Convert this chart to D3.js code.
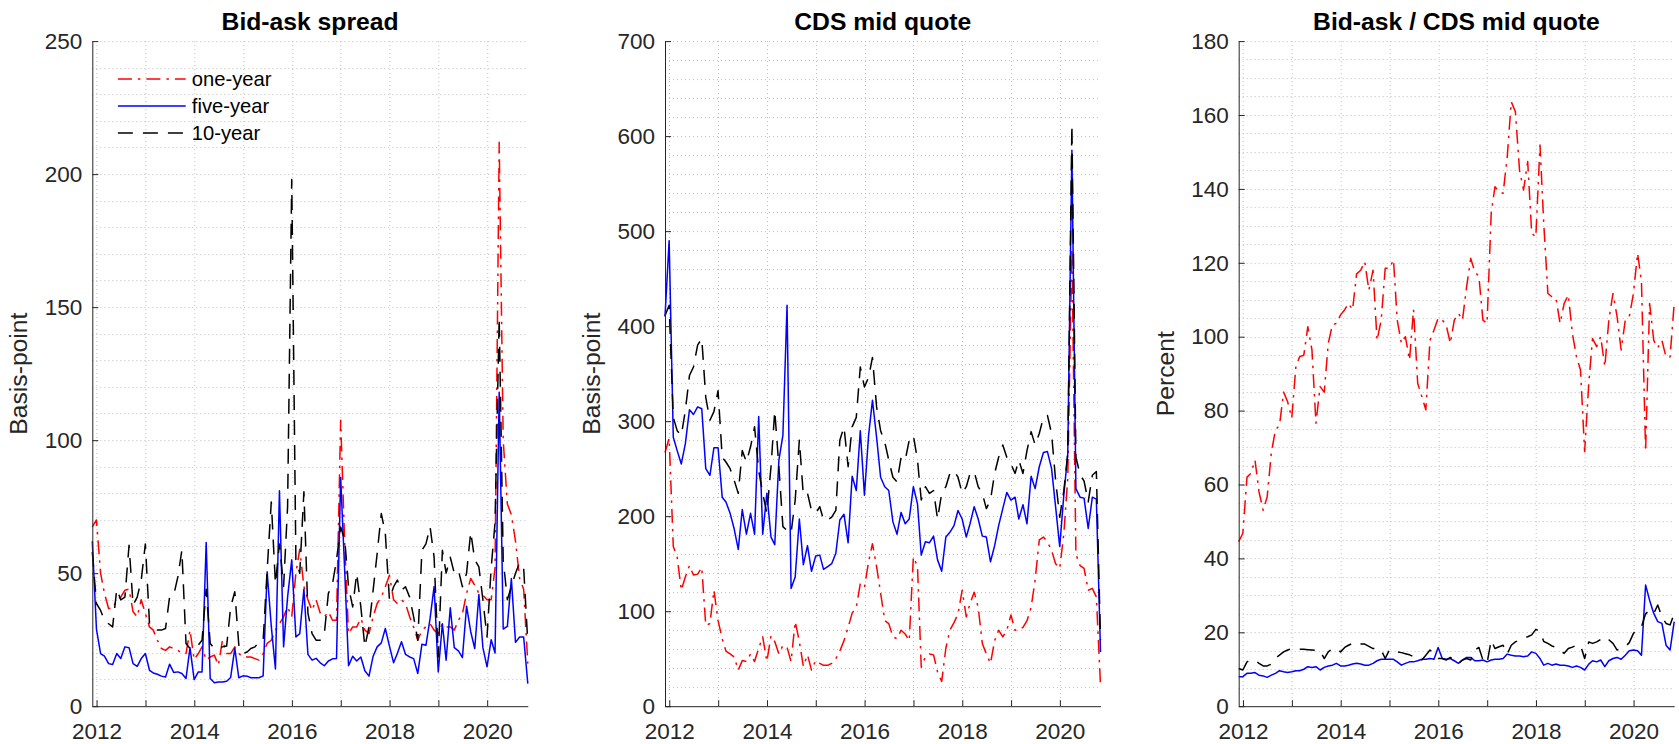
<!DOCTYPE html>
<html>
<head>
<meta charset="utf-8">
<script src="https://cdn.jsdelivr.net/npm/d3@7"></script>
<style>
  html, body { margin: 0; padding: 0; background: #fff; }
  svg { display: block; font-family: "Liberation Sans", Arial, Helvetica, sans-serif; }
</style>
</head>
<body>
<svg id="chart" width="1679" height="744"></svg>
<script>
// Monthly observations, month-end dates from Nov 2011 to Oct 2020 (108 months)
const months = d3.range(108).map(i => new Date(2011, 11 + i, 0));

const seriesNames = ["one-year", "five-year", "10-year"];
const panelTitles = ["Bid-ask spread", "CDS mid quote", "Bid-ask / CDS mid quote"];
const panelYLabels = ["Basis-point", "Basis-point", "Percent"];
const yTickValues = [
  [0, 50, 100, 150, 200, 250],
  [0, 100, 200, 300, 400, 500, 600, 700],
  [0, 20, 40, 60, 80, 100, 120, 140, 160, 180]
];
const yMinorStep = [10, 20, 5];
const xTickYears = [2012, 2013, 2014, 2015, 2016, 2017, 2018, 2019, 2020];

// Bid-ask spread (basis points)
const bidAsk1y = [
  67.4, 70, 50, 42.4, 36.7, 36.7, 40, 41, 43.6, 44, 35.5, 33.6,
  40, 34.8, 29.8, 28.6, 24.8, 21.7, 21, 22.3, 21.7, 21, 19.8, 19.8,
  28.6, 17.5, 19.8, 22.3, 17.3, 18.5, 19.2, 15.4, 24.8, 19.8, 19.8, 22.3,
  19.8, 18.5, 18.5, 18.5, 17.9, 17.3, 19.8, 23.6, 24.8, 28.6, 31, 33.6,
  37.3, 33.6, 50, 59, 45, 40, 36, 40, 35, 33.6, 35.5, 32.3,
  32.3, 107.5, 60, 27.3, 29.8, 29.8, 33, 28.6, 27.3, 33.6, 38.6, 41,
  44.9, 49.2, 40, 38.6, 40, 38.6, 33.6, 29.8, 24.8, 28.6, 29.8, 31,
  28.6, 27.3, 31, 29.8, 29.8, 28.6, 32.3, 34.8, 42.4, 48, 45.5, 42.4,
  41.7, 40, 40, 52, 212, 100, 76, 72, 62, 48, 44, 16
];
const bidAsk5y = [
  62, 29, 19.8, 18.8, 16, 15.7, 19.8, 17.9, 22.3, 22, 16, 15,
  17.9, 19.8, 13.5, 12.5, 12, 11.3, 11, 15.8, 12.7, 12.9, 12.3, 10.4,
  22, 10, 12.9, 12.9, 61.5, 10.4, 8.8, 9.1, 9.1, 9.4, 10.8, 21.7,
  10.7, 11.4, 11.3, 10.7, 10.7, 10.7, 11.4, 50.5, 30, 14, 81, 22.3,
  41, 55, 26, 27.3, 44, 19.5, 17.3, 18, 16.3, 15.2, 17, 17.8,
  17.9, 86, 50, 15.2, 18.8, 17, 18.5, 13.3, 11.3, 18.8, 22.3, 23.8,
  29.2, 22.6, 16.3, 19.8, 24.2, 19.5, 18.5, 17.9, 12.3, 23.3, 22.9, 33,
  45, 12.9, 31, 17.3, 37, 22, 20.8, 18.3, 37.6, 28, 21.7, 42,
  22, 14.8, 25, 20, 118, 29, 30, 48, 24, 26, 26, 8.5
];
const bidAsk10y = [
  58, 38.6, 36, 32.3, 31, 29.8, 44, 40, 41, 60.5, 38, 41,
  47.4, 61, 31, 29.2, 28.6, 28.6, 29.2, 41, 41.7, 48.6, 58.6, 23.6,
  21.7, 22.3, 23, 24.8, 44, 23.6, 21.7, 21.7, 22.3, 22.6, 37.3, 43,
  23, 19.8, 20.4, 21.7, 22.3, 24.2, 24.6, 51, 76.8, 46, 61, 45,
  75, 198, 55, 50, 80.6, 35, 27.3, 24.8, 24.8, 27.3, 42.4, 46,
  55, 67.4, 62.4, 44.9, 37.3, 50, 37.3, 22.3, 29.8, 43.6, 57.4, 72.4,
  65, 40, 44.9, 47.4, 43.6, 44.9, 41, 33.6, 24.8, 58.6, 61, 67.4,
  56, 18.5, 58.6, 50, 56, 50, 51, 44.9, 50, 65.5, 55, 52.4,
  40, 26, 52, 69, 146, 55, 40, 45, 50, 54, 52, 24
];

// CDS mid quote (basis points)
const cdsMid1y = [
  267, 282, 168, 157, 122, 136, 148, 138, 139, 146, 85, 87,
  122, 90, 71, 58, 55, 52, 38, 48, 47, 55, 47, 61,
  73, 47, 74, 68, 55, 64, 62, 47, 89, 68, 42, 54,
  38, 48, 45, 43, 43, 45, 50, 58, 69, 83, 98, 104,
  129, 125, 152, 171, 147, 119, 90, 87, 73, 71, 80, 76,
  69, 157, 147, 41, 52, 55, 54, 36, 26, 61, 80, 88,
  97, 122, 94, 108, 120, 104, 66, 55, 45, 69, 80, 73,
  80, 96, 80, 80, 83, 90, 104, 133, 175, 178, 173, 164,
  150, 145, 182, 240, 482, 160, 148, 145, 122, 124, 115, 22
];
const cdsMid5y = [
  410, 490, 283, 269, 255, 276, 312, 307, 315, 313, 250, 243,
  272, 272, 220, 215, 203, 187, 165, 207, 181, 203, 181, 305,
  181, 224, 178, 170, 259, 285, 422, 124, 136, 197, 149, 169,
  142, 158, 159, 144, 147, 150, 161, 196, 202, 172, 242, 227,
  290, 222, 285, 322, 283, 241, 231, 227, 194, 181, 204, 192,
  197, 231, 213, 159, 173, 172, 179, 154, 142, 178, 183, 190,
  206, 197, 178, 192, 210, 197, 179, 178, 152, 169, 190, 208,
  225, 217, 220, 197, 212, 192, 242, 229, 252, 267, 268, 250,
  210, 168, 223, 265, 585, 229, 220, 219, 187, 220, 218, 57
];
const cdsMid10y = [
  411, 422, 304, 290, 285, 311, 348, 357, 380, 387, 325, 301,
  310, 332, 262, 257, 250, 238, 224, 269, 257, 273, 294, 248,
  224, 203, 252, 311, 252, 189, 185, 182, 217, 280, 222, 224,
  206, 203, 210, 196, 196, 199, 206, 280, 294, 252, 294, 304,
  357, 336, 346, 367, 315, 290, 278, 259, 241, 236, 262, 259,
  280, 285, 259, 217, 231, 224, 227, 197, 224, 231, 245, 248,
  241, 224, 231, 245, 247, 231, 224, 208, 217, 245, 262, 275,
  262, 255, 245, 259, 245, 269, 289, 275, 287, 304, 306, 287,
  238, 199, 227, 266, 612, 262, 244, 237, 215, 243, 247, 70
];

// Bid-ask spread as a share of the CDS mid quote (percent)
const ratio1y = [
  44.5, 46.8, 62, 63, 66.6, 58, 53, 56.7, 68.5, 74.8, 76, 85,
  82.4, 78, 92, 94.6, 95, 102.7, 96.4, 76.6, 86.5, 85, 98.2, 103.2,
  103.6, 105.9, 107.3, 109, 107.3, 117, 118, 120.3, 112.6, 118, 99, 104.5,
  118.5, 118.5, 120.8, 104.5, 98.2, 100, 93.7, 107.3, 87.4, 83.8, 80.2, 99,
  101.8, 105, 104.5, 103.2, 98.2, 104.5, 106.3, 104.5, 113.5, 121.2, 117.6, 116.3,
  104.5, 103.6, 133.4, 140.6, 139.2, 138.8, 148.7, 163.6, 160.9, 145, 139.7, 147.4,
  128, 127, 151.9, 130.7, 111.7, 110.8, 110.4, 103.6, 109, 111.3, 100.9, 94.6,
  91, 68.9, 87.4, 99.5, 97.3, 100, 91.9, 104.5, 111.7, 105.4, 96.4, 104.5,
  105.4, 111.7, 122.6, 115, 69, 109, 99, 97, 99, 94.5, 94.5, 109
];
const ratio5y = [
  8, 8, 8.9, 8.9, 9.1, 8.4, 8.2, 7.8, 8.4, 8.9, 9.6, 9.3,
  9.1, 9.3, 9.6, 9.6, 10, 10.7, 10.5, 10.7, 9.8, 10.5, 10.9, 11.1,
  11.6, 10.9, 10.9, 11.1, 11.4, 11.6, 11.4, 11.1, 11.1, 11.6, 12.3, 12.7,
  12.7, 12.7, 12.7, 12, 11.1, 11.6, 12, 12, 12.3, 12.7, 12.7, 12.9,
  12.7, 15.9, 12.9, 12.7, 12.9, 12.3, 11.6, 12.5, 13.2, 13.2, 12.3, 12.3,
  12.5, 12, 12.5, 12.7, 12.7, 12.9, 14.1, 13.8, 13.6, 13.6, 13.4, 13.6,
  14.7, 14.3, 12.9, 11.1, 11.6, 11.1, 11.4, 11.1, 11.1, 10.9, 10.5, 10.9,
  10.5, 9.8, 11.4, 12.3, 12, 12.5, 10.7, 12.3, 12.9, 13.2, 12.7, 13.8,
  15, 15.2, 15, 13.8, 32.8, 28.7, 25.1, 22.9, 22.4, 16.5, 15.2, 22.9
];
const ratio10y = [
  10.2, 9.8, 12, 12.5, 12.5, 11.6, 10.9, 10.9, 11.4, 13, 13.8, 14.7,
  15.2, 15.6, 15.4, 15.4, 15.4, 15.3, 15.2, 15.1, 15, 12.9, 14.7, 15.6,
  15.6, 14.7, 15.9, 16.5, 17, 16.5, 16.8, 16.8, 16.2, 15.6, 15.6, 15.2,
  12.9, 15.2, 14.7, 14.7, 14.5, 14.2, 13.9, 13.4, 12.7, 12.5, 13.8, 15.2,
  14.3, 12.9, 12.9, 12.5, 13.2, 12.5, 11.6, 12.5, 12.9, 12.5, 15.2, 15.9,
  12.5, 11.6, 17.9, 15.6, 16.1, 16.5, 14.1, 16.5, 17.4, 17.9, 18.4, 18.8,
  19.3, 20.8, 20.2, 17.5, 17, 16.3, 15.9, 15, 14.3, 15.6, 16, 16.5,
  16.5, 12.9, 17.4, 17, 17.4, 18.1, 18.8, 18, 17, 15.2, 15.6, 16.1,
  17.2, 19.7, 21, 21.5, 25, 26, 25.1, 27.4, 24.2, 22.4, 22, 25.1
];

const panelSeries = [
  [bidAsk1y, bidAsk5y, bidAsk10y],
  [cdsMid1y, cdsMid5y, cdsMid10y],
  [ratio1y, ratio5y, ratio10y]
];

// Appearance
const lineColors = ["#ff0000", "#0000ff", "#000000"];
const lineDashes = ["14,6,2.5,6", null, "15,10"];
const axisColor = "#262626";
const gridColor = "#bdbdbd";
const tickFont = 22.5;
const labelFont = 24.7;
const legendFont = 20.2;

const svg = d3.select("#chart");
svg.append("rect").attr("width", 1679).attr("height", 744).attr("fill", "#fff");

const panelLeft = [92.3, 665, 1238.7];
const plotW = 435.5;
const plotTop = 41.1;
const plotBottom = 706.2;
const plotH = plotBottom - plotTop;

const x = d3.scaleTime().domain(d3.extent(months)).range([0, plotW]);
const yearDates = xTickYears.map(yr => new Date(yr, 0, 1));

panelSeries.forEach((series, p) => {
  const yTicks = yTickValues[p];
  const yMax = yTicks[yTicks.length - 1];
  const y = d3.scaleLinear().domain([0, yMax]).range([plotH, 0]);
  const g = svg.append("g").attr("transform", `translate(${panelLeft[p]},${plotTop})`);

  // dotted grid: horizontal at minor steps, vertical at every year
  const grid = g.append("g").attr("stroke", gridColor).attr("stroke-width", 1)
    .attr("stroke-dasharray", "1,3").attr("fill", "none");
  grid.selectAll("line.h").data(d3.range(yMinorStep[p], yMax + 0.001, yMinorStep[p]))
    .join("line").attr("class", "h")
    .attr("x1", 0).attr("x2", plotW)
    .attr("y1", d => Math.round(y(d)) + 0.5).attr("y2", d => Math.round(y(d)) + 0.5);
  grid.selectAll("line.v").data(yearDates)
    .join("line").attr("class", "v")
    .attr("x1", d => Math.round(x(d)) + 0.5).attr("x2", d => Math.round(x(d)) + 0.5)
    .attr("y1", 0).attr("y2", plotH);

  // series lines
  const line = d3.line().x((d, i) => x(months[i])).y(d => y(d));
  series.forEach((vals, s) => {
    g.append("path").datum(vals)
      .attr("d", line)
      .attr("fill", "none")
      .attr("stroke", lineColors[s])
      .attr("stroke-width", 1.5)
      .attr("stroke-linejoin", "round")
      .attr("stroke-dasharray", lineDashes[s]);
  });

  // axes
  const yAxis = d3.axisLeft(y).tickValues(yTicks).tickSize(-6).tickSizeOuter(0).tickPadding(10);
  const xAxis = d3.axisBottom(x).tickValues(yearDates).tickSize(-6).tickSizeOuter(0).tickPadding(17)
    .tickFormat(d => d.getFullYear() % 2 === 0 ? d3.timeFormat("%Y")(d) : "");
  const ya = g.append("g").call(yAxis);
  const xa = g.append("g").attr("transform", `translate(0,${plotH})`).call(xAxis);
  [ya, xa].forEach(a => {
    a.select(".domain").attr("stroke", axisColor).attr("stroke-width", 1);
    a.selectAll(".tick line").attr("stroke", axisColor).attr("stroke-width", 1);
    a.selectAll(".tick text").attr("fill", axisColor)
      .attr("font-size", tickFont).attr("font-family", "Liberation Sans, Arial, sans-serif");
  });

  // title
  g.append("text")
    .attr("x", plotW / 2).attr("y", 30 - plotTop)
    .attr("text-anchor", "middle")
    .attr("font-size", labelFont).attr("font-weight", "bold").attr("fill", "#000")
    .text(panelTitles[p]);

  // y label
  g.append("text")
    .attr("transform", `translate(-65,${plotH / 2}) rotate(-90)`)
    .attr("text-anchor", "middle")
    .attr("font-size", labelFont).attr("fill", axisColor)
    .text(panelYLabels[p]);

  // legend inside the first panel
  if (p === 0) {
    const leg = g.append("g");
    seriesNames.forEach((name, s) => {
      const cy = [79, 106, 133][s] - plotTop;
      leg.append("line")
        .attr("x1", 117.9 - panelLeft[0]).attr("x2", 185.7 - panelLeft[0])
        .attr("y1", cy).attr("y2", cy)
        .attr("stroke", lineColors[s]).attr("stroke-width", 1.5)
        .attr("stroke-dasharray", lineDashes[s]);
      leg.append("text")
        .attr("x", 191.8 - panelLeft[0]).attr("y", cy)
        .attr("dy", "0.35em")
        .attr("font-size", legendFont).attr("fill", "#000")
        .text(name);
    });
  }
});
</script>
</body>
</html>
